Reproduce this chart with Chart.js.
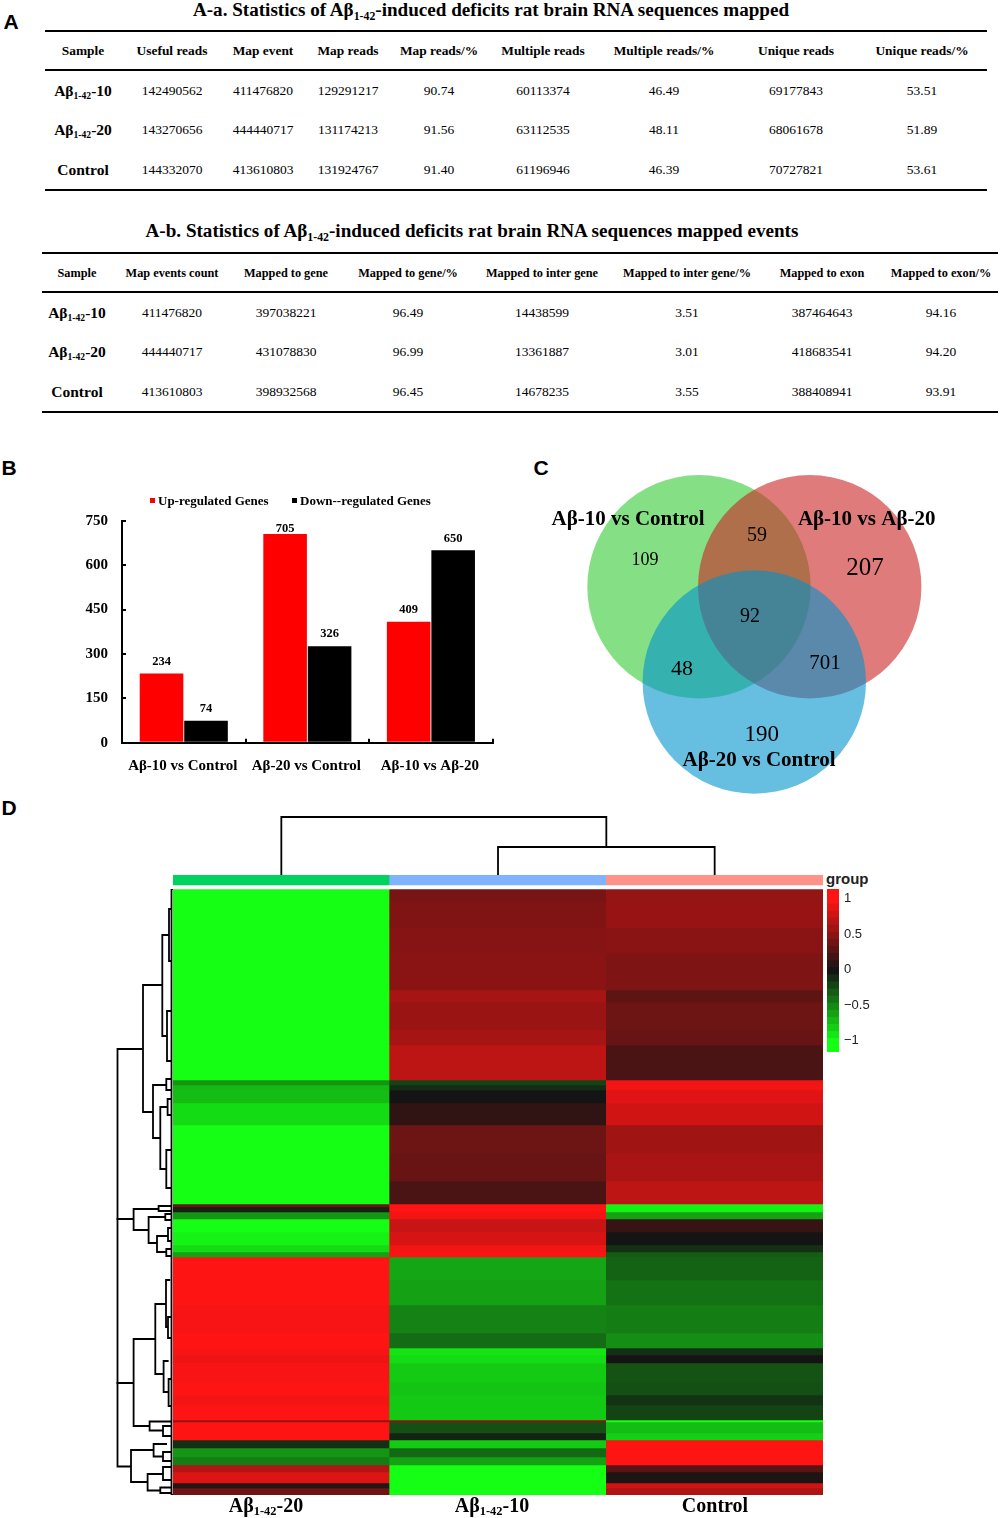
<!DOCTYPE html>
<html>
<head>
<meta charset="utf-8">
<title>Aβ1-42 RNA sequencing</title>
<script src="https://cdn.jsdelivr.net/npm/chart.js@4/dist/chart.umd.min.js"></script>
<style>
  html, body { margin: 0; padding: 0; background: #fff; }
  #page { position: relative; width: 1000px; height: 1518px; overflow: hidden; font-family: "Liberation Serif", serif; color: #000; }
  #page canvas { position: absolute; }
  .txt { position: absolute; white-space: nowrap; line-height: 1; transform: translate(-50%, -50%); }
  .rule { position: absolute; height: 2px; background: #000; }
  sub { font-size: 0.62em; line-height: 0; vertical-align: -0.28em; }
</style>
</head>
<body>
<div id="page"></div>
<script>
// ---------- data ----------
const AB10 = "Aβ<sub>1-42</sub>-10";
const AB20 = "Aβ<sub>1-42</sub>-20";

// A-a table
const readColumns = ["Sample", "Useful reads", "Map event", "Map reads", "Map reads/%", "Multiple reads", "Multiple reads/%", "Unique reads", "Unique reads/%"];
const readsAb10 = [AB10, "142490562", "411476820", "129291217", "90.74", "60113374", "46.49", "69177843", "53.51"];
const readsAb20 = [AB20, "143270656", "444440717", "131174213", "91.56", "63112535", "48.11", "68061678", "51.89"];
const readsControl = ["Control", "144332070", "413610803", "131924767", "91.40", "61196946", "46.39", "70727821", "53.61"];

// A-b table
const eventColumns = ["Sample", "Map events count", "Mapped to gene", "Mapped to gene/%", "Mapped to inter gene", "Mapped to inter gene/%", "Mapped to exon", "Mapped to exon/%"];
const eventsAb10 = [AB10, "411476820", "397038221", "96.49", "14438599", "3.51", "387464643", "94.16"];
const eventsAb20 = [AB20, "444440717", "431078830", "96.99", "13361887", "3.01", "418683541", "94.20"];
const eventsControl = ["Control", "413610803", "398932568", "96.45", "14678235", "3.55", "388408941", "93.91"];

// B bars
const comparisons = ["Aβ-10 vs Control", "Aβ-20 vs Control", "Aβ-10 vs Aβ-20"];
const upGenes = [234, 705, 409];
const downGenes = [74, 326, 650];
const geneTicks = [0, 150, 300, 450, 600, 750];

// C venn counts
const vennSets = ["Aβ-10 vs Control", "Aβ-10 vs Aβ-20", "Aβ-20 vs Control"];
const vennCounts = ["109", "59", "207", "92", "48", "701", "190"];

// D heatmap: genes per band and the z-score of each sample in that band
const bandGenes = [13, 13, 13, 25, 37, 12, 28, 15, 35, 5, 5, 13, 22, 28, 28, 23, 3, 5, 7, 13, 13, 7, 5, 23, 25, 28, 15, 7, 8, 19, 13, 10, 15, 2, 11, 7, 8, 9, 8, 7, 11, 5, 7];
const heatAb20 = [-1, -1, -1, -1, -1, -1, -1, -1, -1, -0.55, -0.7, -0.72, -0.85, -1, -1, -1, 0.35, -0.05, -0.55, -1, -0.95, -0.85, -0.6, 1, 1, 0.97, 1, 0.97, 0.93, 0.97, 1, 0.95, 1, 0.55, 1, 1, -0.12, -0.55, -0.45, 0.68, 0.85, 0.08, 0.38];
const heatAb10 = [0.43, 0.46, 0.46, 0.49, 0.5, 0.62, 0.57, 0.62, 0.72, -0.2, -0.1, 0, 0.12, 0.38, 0.36, 0.23, 1, 1, 0.95, 0.76, 0.83, 0.95, 0.98, -0.62, -0.6, -0.47, -0.38, -0.88, -0.85, -0.78, -0.75, -0.77, -0.77, 0.5, -0.25, -0.07, -0.78, -0.36, -0.6, -1, -1, -1, -1];
const heatControl = [0.55, 0.56, 0.56, 0.5, 0.45, 0.32, 0.38, 0.36, 0.23, 0.94, 0.95, 0.87, 0.8, 0.6, 0.64, 0.72, -0.95, -0.95, -0.6, 0.15, 0, -0.12, -0.3, -0.33, -0.4, -0.45, -0.52, -0.12, 0, -0.27, -0.25, -0.13, -0.2, -1, -0.72, -0.8, 1, 1, 1, 0.3, 0.04, 0.8, 0.65];
const colorSteps = [1.1, 1, 0.9, 0.8, 0.7, 0.6, 0.5, 0.4, 0.3, 0.2, 0.1, 0, -0.1, -0.2, -0.3, -0.4, -0.5, -0.6, -0.7, -0.8, -0.9, -1, -1.1];
const colorTicks = [-1, -0.5, 0, 0.5, 1];

// row dendrogram: [merge height, top row, bottom row, top child height, bottom child height]
const rowTree = [
  [55.5, 160, 330, 30, 39.4], [55.5, 330, 494, 39.4, 39.4], [55.5, 494, 577.5, 39.4, 42],
  [30, 96, 223, 10.7, 20], [10.7, 46, 147, 4, 6], [4, 20, 72, 2, 2], [6, 122, 172, 2, 2],
  [20, 196, 249, 6.7, 12.7], [6.7, 190, 201, 2, 2], [12.7, 218, 280, 5.4, 6.7], [5.4, 210, 226, 2, 2], [6.7, 261, 299, 2, 2],
  [39.4, 320, 341, 14.4, 24.4], [14.4, 317, 322, 2, 2], [24.4, 328, 354, 7.7, 16], [7.7, 325, 331, 2, 2],
  [16, 347, 363, 5, 6.7], [5, 339, 352, 2, 2], [6.7, 360, 367, 2, 2],
  [39.4, 450, 537, 17.7, 23.4], [17.7, 415, 485, 7, 9.4], [7, 391, 438, 2.7, 5], [5, 428, 449, 2, 2],
  [9.4, 472, 503, 4.4, 4.4], [4.4, 490, 517, 2, 2], [23.4, 532.5, 541.5, 1.5, 10], [10, 537, 547, 2, 2],
  [42, 561, 593, 19.4, 25.4], [19.4, 555, 567.5, 6, 10], [10, 563, 572, 2, 2],
  [25.4, 585, 601.5, 10, 12.7], [10, 578, 591, 2, 2], [12.7, 598.5, 604, 2, 2],
  [1.5, 0, 606, 0, 0]
];
// column dendrogram: [merge height, left column, right column, left child height, right child height]
const columnTree = [[28, 1.5, 2.5, 0, 0], [58, 0.5, 2, 0, 28]];

// ---------- helpers ----------
const page = document.getElementById("page");
const SERIF = "'Liberation Serif', serif";
Chart.defaults.font.family = SERIF;
Chart.defaults.color = "#000";
Chart.defaults.animation = false;

function addText(html, x, y, size, bold, align) {
  const el = document.createElement("div");
  el.className = "txt";
  el.innerHTML = html;
  el.style.left = x + "px";
  el.style.top = y + "px";
  el.style.fontSize = size + "px";
  el.style.fontWeight = bold ? "bold" : "normal";
  if (align === "left") el.style.transform = "translate(0, -50%)";
  page.appendChild(el);
  return el;
}

function addRule(x, y, width) {
  const el = document.createElement("div");
  el.className = "rule";
  el.style.left = x + "px";
  el.style.top = y - 1 + "px";
  el.style.width = width + "px";
  page.appendChild(el);
}

function addCanvas(left, top, width, height) {
  const c = document.createElement("canvas");
  c.width = width;
  c.height = height;
  c.style.left = left + "px";
  c.style.top = top + "px";
  c.style.width = width + "px";
  c.style.height = height + "px";
  page.appendChild(c);
  return c.getContext("2d");
}

function drawTable(columns, rows, centers, rowY, headSize, cellSize, nameSize) {
  columns.forEach((name, i) => addText(name, centers[i], rowY[0], headSize, true));
  rows.forEach((row, r) => {
    row.forEach((cell, i) => {
      addText(cell, centers[i], rowY[r + 1], i === 0 ? nameSize : cellSize, i === 0);
    });
  });
}

// green - black - red like the heatmap key
function heatColor(v) {
  const t = Math.min(1, Math.abs(v));
  const strong = Math.round(20 + 235 * t);
  return v >= 0 ? "rgb(" + strong + ",20,20)" : "rgb(20," + strong + ",20)";
}

// stops the axis labels from pushing the plot area in
function noLabelMargin(scale) {
  scale.paddingTop = 0;
  scale.paddingBottom = 0;
  scale.paddingLeft = 0;
  scale.paddingRight = 0;
}

// ---------- panel letters ----------
[["A", 11, 21], ["B", 9, 467], ["C", 541, 467], ["D", 9, 807]].forEach((p) => {
  const el = addText(p[0], p[1], p[2], 21, true);
  el.style.fontFamily = "'Liberation Sans', sans-serif";
});

// ---------- A tables ----------
addText("A-a. Statistics of Aβ<sub>1-42</sub>-induced deficits rat brain RNA sequences mapped", 491, 9.5, 19.1, true);
addRule(45, 31, 942);
addRule(45, 70, 942);
addRule(45, 190, 942);
drawTable(readColumns, [readsAb10, readsAb20, readsControl],
  [83, 172, 263, 348, 439, 543, 664, 796, 922], [50.5, 90.5, 129.5, 169.5], 13.4, 13.5, 15.5);

addText("A-b. Statistics of Aβ<sub>1-42</sub>-induced deficits rat brain RNA sequences mapped events", 472, 231, 19.1, true);
addRule(42, 253, 956);
addRule(42, 292, 956);
addRule(42, 412, 956);
drawTable(eventColumns, [eventsAb10, eventsAb20, eventsControl],
  [77, 172, 286, 408, 542, 687, 822, 941], [272.5, 312.5, 351.5, 391.5], 12.3, 13.5, 15.5);

// ---------- B bars ----------
const barLabels = {
  id: "barLabels",
  afterDatasetsDraw(chart) {
    const ctx = chart.ctx;
    ctx.save();
    ctx.font = "bold 12.5px " + SERIF;
    ctx.fillStyle = "#000";
    ctx.textAlign = "center";
    ctx.textBaseline = "middle";
    chart.data.datasets.forEach((ds, i) => {
      chart.getDatasetMeta(i).data.forEach((bar, j) => {
        // the tallest bar has its label squeezed under the top of the axis
        const lift = ds.data[j] > 700 ? 5.5 : 12;
        ctx.fillText(ds.data[j], bar.x, bar.y - lift);
      });
    });
    ctx.restore();
  },
};

new Chart(addCanvas(60, 488, 462, 290), {
  type: "bar",
  data: {
    labels: comparisons,
    datasets: [
      { label: "Up-regulated Genes", data: upGenes, backgroundColor: "#ff0000" },
      { label: "Down--regulated Genes", data: downGenes, backgroundColor: "#000000" },
    ],
  },
  options: {
    responsive: false,
    maintainAspectRatio: false,
    layout: { autoPadding: false, padding: { top: 32.7, right: 29.3 } },
    datasets: { bar: { categoryPercentage: 0.72, barPercentage: 0.98 } },
    plugins: { legend: { display: false }, tooltip: { enabled: false } },
    scales: {
      x: {
        afterFit: (s) => { s.height = 35.3; noLabelMargin(s); },
        border: { color: "#000", width: 2 },
        grid: { drawOnChartArea: false, color: "#000", lineWidth: 2, tickLength: -4 },
        ticks: { font: { size: 15, weight: "bold" }, color: "#000", padding: 18, maxRotation: 0, labelOffset: -1 },
      },
      y: {
        min: 0,
        max: 750,
        afterFit: (s) => { s.width = 62; noLabelMargin(s); },
        afterBuildTicks: (s) => { s.ticks = geneTicks.map((v) => ({ value: v })); },
        border: { color: "#000", width: 2 },
        grid: { drawOnChartArea: false, color: "#000", lineWidth: 2, tickLength: -4 },
        ticks: { font: { size: 15, weight: "bold" }, color: "#000", padding: 18 },
      },
    },
  },
  plugins: [barLabels],
});

// legend of the bars
[["#ff0000", "Up-regulated Genes", 150], ["#000000", "Down--regulated Genes", 292]].forEach((item) => {
  const box = document.createElement("div");
  box.style.cssText = "position:absolute;width:5px;height:5px;top:498px;left:" + item[2] + "px;background:" + item[0];
  page.appendChild(box);
  addText(item[1], item[2] + 8, 500, 13, true, "left");
});

// ---------- C venn ----------
// circle layout, in px of the venn canvas
const vennCircles = [
  { x: 179, y: 136.7, r: 111.7, color: "rgba(52,203,52,0.6)" },
  { x: 289.7, y: 136.7, r: 111.7, color: "rgba(203,35,35,0.6)" },
  { x: 234.3, y: 232, r: 111.7, color: "rgba(0,147,203,0.6)" },
];
const vennSetSpots = [[108, 69.2, 21], [346.7, 69.5, 21], [239, 311, 21]];
const vennCountSpots = [[125, 110.5, 18], [237, 85.5, 20], [345, 118, 25], [230, 166.5, 20], [162, 219.5, 22], [305, 213.5, 21], [241.7, 285, 23]];

const vennText = {
  id: "vennText",
  afterDatasetsDraw(chart) {
    const ctx = chart.ctx;
    const sx = chart.scales.x;
    const sy = chart.scales.y;
    ctx.save();
    ctx.fillStyle = "#000";
    ctx.textAlign = "center";
    ctx.textBaseline = "middle";
    vennCounts.forEach((txt, i) => {
      const s = vennCountSpots[i];
      ctx.font = "500 " + s[2] + "px " + SERIF;
      ctx.fillText(txt, sx.getPixelForValue(s[0]), sy.getPixelForValue(s[1]));
    });
    vennSets.forEach((txt, i) => {
      const s = vennSetSpots[i];
      ctx.font = "bold " + s[2] + "px " + SERIF;
      ctx.fillText(txt, sx.getPixelForValue(s[0]), sy.getPixelForValue(s[1]));
    });
    ctx.restore();
  },
};

new Chart(addCanvas(520, 450, 480, 350), {
  type: "bubble",
  data: {
    // chart.js paints the last dataset first, blue has to end up on top
    datasets: vennCircles.map((c, i) => ({
      label: vennSets[i],
      data: [{ x: c.x, y: c.y, r: c.r }],
      backgroundColor: c.color,
      borderWidth: 0,
      clip: false,
    })).reverse(),
  },
  options: {
    responsive: false,
    layout: { autoPadding: false, padding: 0 },
    plugins: { legend: { display: false }, tooltip: { enabled: false } },
    scales: {
      x: { display: false, min: 0, max: 480 },
      y: { display: false, min: 0, max: 350, reverse: true },
    },
  },
  plugins: [vennText],
});

// ---------- D heatmap ----------
const heatDatasets = [
  { data: [10, 10, 10], backgroundColor: ["#00d25f", "#7fb2ff", "#ff9289"] },
  { data: [4, 4, 4], backgroundColor: "#ffffff" },
];
bandGenes.forEach((n, i) => {
  heatDatasets.push({
    data: [n, n, n],
    backgroundColor: [heatColor(heatAb20[i]), heatColor(heatAb10[i]), heatColor(heatControl[i])],
  });
});

new Chart(addCanvas(173, 875, 650, 620), {
  type: "bar",
  data: { labels: ["Aβ1-42-20", "Aβ1-42-10", "Control"], datasets: heatDatasets },
  options: {
    responsive: false,
    layout: { autoPadding: false, padding: 0 },
    datasets: { bar: { categoryPercentage: 1, barPercentage: 1, borderWidth: 0 } },
    plugins: { legend: { display: false }, tooltip: { enabled: false } },
    scales: {
      x: { display: false, stacked: true },
      y: { display: false, stacked: true, reverse: true, min: 0, max: 620 },
    },
  },
});

addText(AB20, 266, 1505, 20, true);
addText(AB10, 492, 1505, 20, true);
addText("Control", 715, 1505, 20, true);

// dendrograms
function treeDatasets(tree, horizontal) {
  return tree.map((b) => {
    const pts = horizontal
      ? [[b[1], b[3]], [b[1], b[0]], [b[2], b[0]], [b[2], b[4]]]
      : [[b[3], b[1]], [b[0], b[1]], [b[0], b[2]], [b[4], b[2]]];
    return {
      data: pts.map((p) => ({ x: p[0], y: p[1] })),
      showLine: true,
      pointRadius: 0,
      borderColor: "#000",
      borderWidth: 1.8,
      tension: 0,
      clip: false,
    };
  });
}

new Chart(addCanvas(110, 889, 63, 606), {
  type: "scatter",
  data: { datasets: treeDatasets(rowTree, false) },
  options: {
    responsive: false,
    layout: { autoPadding: false, padding: 0 },
    plugins: { legend: { display: false }, tooltip: { enabled: false } },
    scales: {
      x: { display: false, reverse: true, min: 0, max: 63 },
      y: { display: false, reverse: true, min: 0, max: 606 },
    },
  },
});

new Chart(addCanvas(173, 815, 650, 60), {
  type: "scatter",
  data: { datasets: treeDatasets(columnTree, true) },
  options: {
    responsive: false,
    layout: { autoPadding: false, padding: 0 },
    plugins: { legend: { display: false }, tooltip: { enabled: false } },
    scales: {
      x: { display: false, min: 0, max: 3 },
      y: { display: false, min: 0, max: 60 },
    },
  },
});

// key of the heatmap
const keyTitle = addText("group", 826, 878, 15, true, "left");
keyTitle.style.fontFamily = "'Liberation Sans', sans-serif";
keyTitle.style.color = "#222";

new Chart(addCanvas(827, 889, 60, 163), {
  type: "bar",
  data: {
    labels: ["key"],
    datasets: colorSteps.map((v) => ({
      data: [[v - 0.06, v + 0.06]],
      backgroundColor: heatColor(v),
    })),
  },
  options: {
    responsive: false,
    layout: { autoPadding: false, padding: 0 },
    datasets: { bar: { categoryPercentage: 1, barPercentage: 1, borderWidth: 0, borderSkipped: false } },
    plugins: { legend: { display: false }, tooltip: { enabled: false } },
    scales: {
      x: { display: false, stacked: true },
      y: {
        position: "right",
        min: -1.16,
        max: 1.14,
        afterFit: (s) => { s.width = 48; noLabelMargin(s); },
        afterBuildTicks: (s) => { s.ticks = colorTicks.map((v) => ({ value: v })); },
        border: { display: false },
        grid: { display: false, drawTicks: false },
        ticks: {
          font: { family: "'Liberation Sans', sans-serif", size: 13 },
          color: "#222",
          padding: 5,
          callback: (v) => String(v).replace("-", "−"),
        },
      },
    },
  },
});
</script>
</body>
</html>
